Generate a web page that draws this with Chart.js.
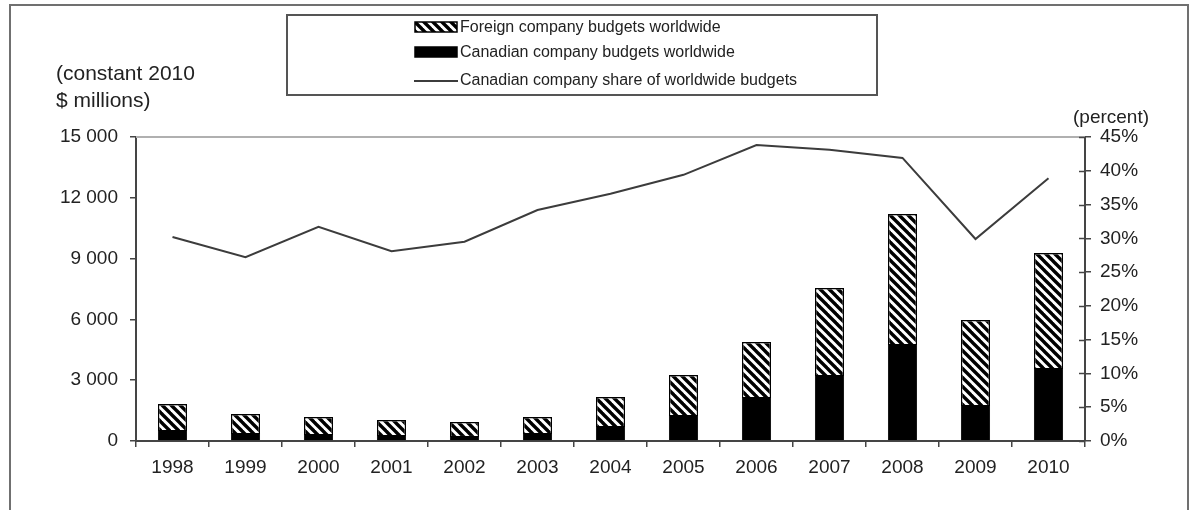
<!DOCTYPE html>
<html>
<head>
<meta charset="utf-8">
<script src="https://cdn.jsdelivr.net/npm/chart.js@4.4.1/dist/chart.umd.min.js"></script>
<style>
  html, body { margin:0; padding:0; background:#fff; width:1196px; height:510px; overflow:hidden; font-family:'Liberation Sans', Arial, sans-serif; }
  #frame { position:absolute; left:9px; top:4px; width:1180px; height:540px; border:2px solid #707070; border-bottom:none; box-sizing:border-box; }
  #c { position:absolute; left:0; top:0; }
  #legend { position:absolute; left:286px; top:14px; width:592px; height:82px; border:2px solid #555; box-sizing:border-box; background:#fff; }
  .row { position:absolute; left:126px; height:20px; display:flex; align-items:center; font-size:16px; color:#222; white-space:nowrap; }
  .row canvas { margin-right:2px; }
  .lbl { position:absolute; font-size:21px; color:#222; line-height:27px; white-space:nowrap; }
</style>
</head>
<body>
<div id="frame"></div>
<canvas id="c" width="1196" height="510"></canvas>
<div id="legend"></div>
<div class="lbl" id="ylab" style="left:56px; top:59px;"></div>
<div class="lbl" id="y1lab" style="left:1073px; top:103px; font-size:19px;"></div>
<script>
// ---- data ----
const years = ['1998','1999','2000','2001','2002','2003','2004','2005','2006','2007','2008','2009','2010'];
const canadianBudgets = [540, 395, 345, 295, 250, 395, 740, 1280, 2170, 3255, 4785, 1775, 3600];
const foreignBudgets  = [1280, 940, 840, 740, 690, 790, 1430, 1975, 2715, 4295, 6415, 4195, 5675];
const canadianShare   = [30.2, 27.2, 31.7, 28.1, 29.5, 34.2, 36.6, 39.4, 43.8, 43.1, 41.9, 29.9, 38.9];
const seriesNames = ['Foreign company budgets worldwide', 'Canadian company budgets worldwide', 'Canadian company share of worldwide budgets'];
const leftTicks = [0, 3000, 6000, 9000, 12000, 15000];
const rightTicks = [0, 5, 10, 15, 20, 25, 30, 35, 40, 45];
const leftAxisTitle = ['(constant 2010', '$ millions)'];
const rightAxisTitle = '(percent)';

document.getElementById('ylab').innerHTML = leftAxisTitle.join('<br>');
document.getElementById('y1lab').textContent = rightAxisTitle;

function makeHatch() {
  const s = 9;
  const t = document.createElement('canvas');
  t.width = s; t.height = s;
  const g = t.getContext('2d');
  g.fillStyle = '#fff'; g.fillRect(0, 0, s, s);
  g.strokeStyle = '#000'; g.lineWidth = 3.4; g.lineCap = 'square';
  for (let k = -1; k <= 1; k++) {
    g.beginPath(); g.moveTo(k * s, 0); g.lineTo(k * s + s, s); g.stroke();
  }
  return t;
}
const hatchTile = makeHatch();
const ctx = document.getElementById('c').getContext('2d');
const hatch = ctx.createPattern(hatchTile, 'repeat');

const fmt = v => String(v).replace(/\B(?=(\d{3})+(?!\d))/g, ' ');
const FONT = { family: "'Liberation Sans', Arial, sans-serif", size: 19 };
const AX = '#454545';

const framePlugin = {
  id: 'framePlugin',
  afterDatasetsDraw(chart) {
    const { ctx, chartArea } = chart;
    ctx.save();
    ctx.strokeStyle = '#b0b0b0'; ctx.lineWidth = 2;
    ctx.beginPath(); ctx.moveTo(chartArea.left, chartArea.top); ctx.lineTo(chartArea.right, chartArea.top); ctx.stroke();
    // inward ticks on right axis
    const y1 = chart.scales.y1;
    ctx.strokeStyle = AX; ctx.lineWidth = 1.5;
    y1.ticks.forEach(t => {
      const py = Math.round(y1.getPixelForValue(t.value)) + 0.5;
      ctx.beginPath(); ctx.moveTo(chartArea.right - 6, py); ctx.lineTo(chartArea.right, py); ctx.stroke();
    });
    ctx.restore();
  }
};

const chart = new Chart(ctx, {
  type: 'bar',
  data: {
    labels: years,
    datasets: [
      { type: 'line', label: seriesNames[2], data: canadianShare, yAxisID: 'y1', borderColor: '#3c3c3c', borderWidth: 2, pointRadius: 0, tension: 0, fill: false, order: 0 },
      { label: seriesNames[1], data: canadianBudgets, yAxisID: 'y', backgroundColor: '#000', borderColor: '#000', borderWidth: 1, stack: 's', order: 1 },
      { label: seriesNames[0], data: foreignBudgets, yAxisID: 'y', backgroundColor: hatch, borderColor: '#000', borderWidth: 1.5, stack: 's', order: 1 }
    ]
  },
  options: {
    responsive: false, animation: false, devicePixelRatio: 1,
    layout: { padding: { top: 137, left: 0, right: 0, bottom: 0 } },
    plugins: { legend: { display: false }, tooltip: { enabled: false }, title: { display: false } },
    datasets: { bar: { categoryPercentage: 0.5, barPercentage: 0.8 } },
    scales: {
      x: {
        stacked: true, offset: true,
        grid: { offset: true, drawOnChartArea: false, tickLength: 6, color: AX, lineWidth: 1.5 },
        border: { color: AX, width: 2 },
        ticks: { font: FONT, color: '#222', padding: 9, maxRotation: 0 },
        afterFit(s) { s.height = 69; }
      },
      y: {
        stacked: true, min: 0, max: 15000,
        afterBuildTicks(s) { s.ticks = leftTicks.map(v => ({ value: v })); },
        grid: { drawOnChartArea: false, tickLength: 6, color: AX, lineWidth: 1.5 },
        border: { color: AX, width: 2 },
        ticks: { font: FONT, color: '#222', padding: 12, callback: v => fmt(v) },
        afterFit(s) { s.width = 136; }
      },
      y1: {
        position: 'right', min: 0, max: 45,
        afterBuildTicks(s) { s.ticks = rightTicks.map(v => ({ value: v })); },
        grid: { drawOnChartArea: false, tickLength: 6, color: AX, lineWidth: 1.5 },
        border: { color: AX, width: 2 },
        ticks: { font: FONT, color: '#222', padding: 9, callback: v => v + '%' },
        afterFit(s) { s.width = 111; }
      }
    }
  },
  plugins: [framePlugin]
});

// HTML legend built from the chart's datasets, in the reference order
const legend = document.getElementById('legend');
const order = [2, 1, 0];
const rowTops = [1, 26, 54];
order.forEach((di, i) => {
  const ds = chart.data.datasets[di];
  const row = document.createElement('div');
  row.className = 'row';
  row.style.top = rowTops[i] + 'px';
  const sw = document.createElement('canvas');
  sw.width = 44; sw.height = 12;
  const g = sw.getContext('2d');
  if (ds.type === 'line') {
    g.strokeStyle = ds.borderColor; g.lineWidth = 2;
    g.beginPath(); g.moveTo(0, 7); g.lineTo(44, 7); g.stroke();
  } else {
    g.fillStyle = di === 2 ? g.createPattern(hatchTile, 'repeat') : ds.backgroundColor;
    g.fillRect(1, 1, 42, 10);
    g.strokeStyle = '#000'; g.lineWidth = 1.5; g.strokeRect(1, 1, 42, 10);
  }
  row.appendChild(sw);
  const sp = document.createElement('span');
  sp.textContent = ds.label;
  row.appendChild(sp);
  legend.appendChild(row);
});
</script>
</body>
</html>
